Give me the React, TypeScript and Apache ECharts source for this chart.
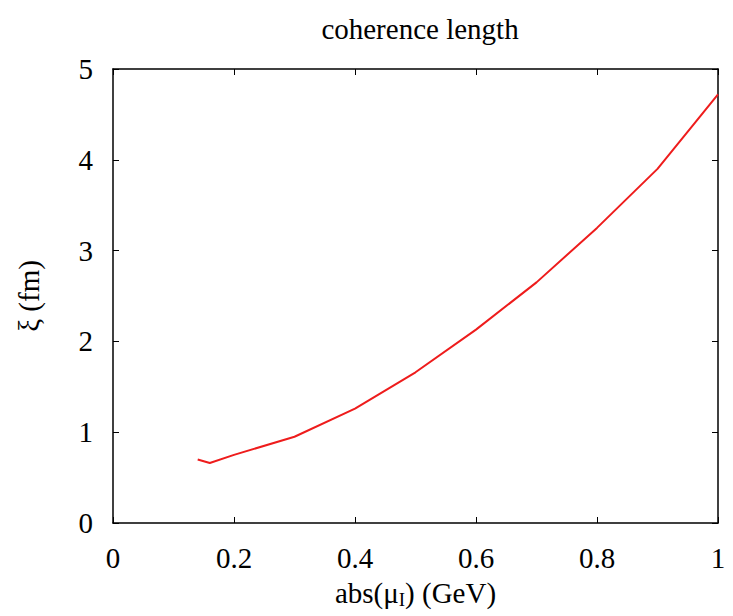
import React, { useEffect, useRef } from "react";
import * as echarts from "echarts";

const muValues = [0.14, 0.16, 0.2, 0.3, 0.4, 0.5, 0.6, 0.7, 0.8, 0.9, 1.0];
const xiValues = [0.7, 0.66, 0.75, 0.95, 1.26, 1.66, 2.13, 2.65, 3.25, 3.9, 4.72];
const titleText = "coherence length";
const FONT = "Liberation Serif";

export default function App() {
  const ref = useRef<HTMLDivElement>(null);
  useEffect(() => {
    if (!ref.current) return;
    const chart = echarts.init(ref.current, null, { renderer: "svg" });
    const axisCommon = {
      axisLine: { show: true, onZero: false, lineStyle: { color: "#000", width: 1.5 } },
      axisTick: { show: true, inside: true, length: 6, lineStyle: { color: "#000", width: 1 } },
      splitLine: { show: false },
    };
    chart.setOption({
      animation: false,
      backgroundColor: "#fff",
      title: {
        text: titleText,
        left: 415,
        top: 9,
        textAlign: "center",
        textStyle: { fontFamily: FONT, fontSize: 29, fontWeight: "normal", color: "#000" },
      },
      grid: { left: 113, right: 15, top: 69, bottom: 93 },
      xAxis: [
        {
          type: "value",
          min: 0,
          max: 1,
          interval: 0.2,
          position: "bottom",
          ...axisCommon,
          axisLabel: { fontFamily: FONT, fontSize: 29, color: "#000", margin: 20 },
          name: "abs(μ{sub|I}) (GeV)",
          nameLocation: "middle",
          nameGap: 53,
          nameTextStyle: {
            fontFamily: FONT,
            fontSize: 29,
            color: "#000",
            rich: { sub: { fontFamily: FONT, fontSize: 19, color: "#000", verticalAlign: "bottom", padding: [14, 0, 0, 0] } },
          },
        },
        {
          type: "value",
          min: 0,
          max: 1,
          interval: 0.2,
          position: "top",
          ...axisCommon,
          axisLabel: { show: false },
        },
      ],
      yAxis: [
        {
          type: "value",
          min: 0,
          max: 5,
          interval: 1,
          position: "left",
          ...axisCommon,
          axisLabel: { fontFamily: FONT, fontSize: 29, color: "#000", margin: 20 },
          name: "ξ (fm)",
          nameLocation: "middle",
          nameGap: 70,
          nameRotate: 90,
          nameTextStyle: { fontFamily: FONT, fontSize: 29, color: "#000" },
        },
        {
          type: "value",
          min: 0,
          max: 5,
          interval: 1,
          position: "right",
          ...axisCommon,
          axisLabel: { show: false },
        },
      ],
      series: [
        {
          type: "line",
          data: muValues.map((m, i) => [m, xiValues[i]]),
          showSymbol: false,
          lineStyle: { color: "#ee1c1c", width: 2 },
        },
      ],
    });
    return () => chart.dispose();
  }, []);
  return (
    <div
      ref={ref}
      style={{ position: "absolute", left: 0, top: 0, width: 733, height: 616 }}
    />
  );
}
